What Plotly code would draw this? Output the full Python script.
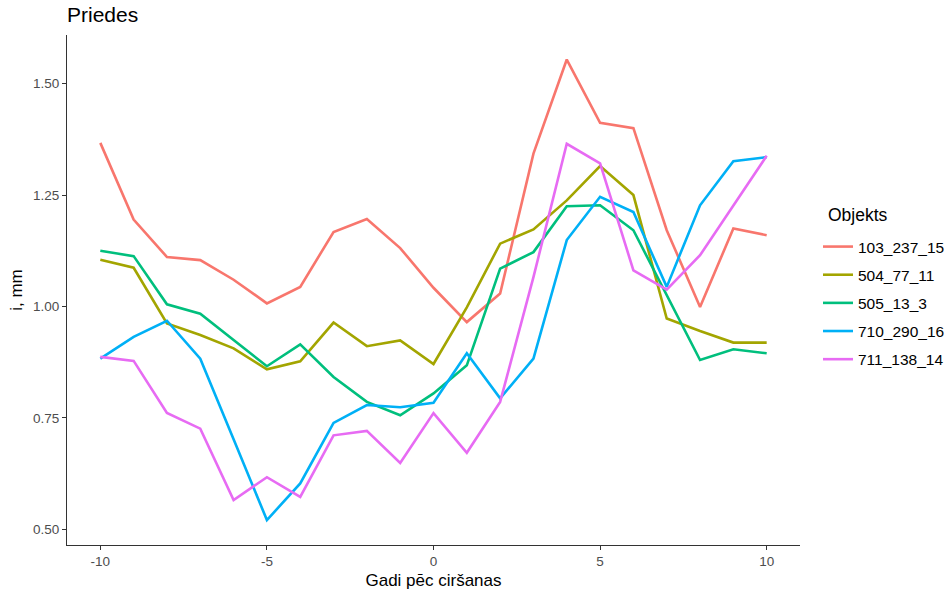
import plotly.graph_objects as go

# Years relative to cutting
years = list(range(-10, 11))

# Mean increment (mm) per object
obj_103_237_15 = [1.367, 1.195, 1.111, 1.104, 1.060, 1.007, 1.044, 1.167, 1.196, 1.131,
                  1.042, 0.965, 1.029, 1.343, 1.554, 1.412, 1.400, 1.171, 0.999, 1.175, 1.160]
obj_504_77_11 = [1.105, 1.087, 0.962, 0.936, 0.906, 0.859, 0.877, 0.964, 0.911, 0.924,
                 0.871, 0.998, 1.141, 1.173, 1.238, 1.315, 1.250, 0.973, 0.945, 0.919, 0.919]
obj_505_13_3 = [1.125, 1.113, 1.005, 0.984, 0.925, 0.866, 0.915, 0.842, 0.786, 0.756,
                0.805, 0.868, 1.085, 1.122, 1.225, 1.227, 1.171, 1.025, 0.880, 0.904, 0.895]
obj_710_290_16 = [0.883, 0.932, 0.968, 0.883, 0.702, 0.521, 0.603, 0.739, 0.779, 0.774,
                  0.784, 0.895, 0.794, 0.883, 1.149, 1.246, 1.212, 1.044, 1.227, 1.326, 1.335]
obj_711_138_14 = [0.887, 0.878, 0.761, 0.726, 0.566, 0.617, 0.573, 0.711, 0.721, 0.649,
                  0.761, 0.672, 0.786, 1.066, 1.365, 1.321, 1.081, 1.038, 1.115, 1.228, 1.338]

names = ["103_237_15", "504_77_11", "505_13_3", "710_290_16", "711_138_14"]
series = [obj_103_237_15, obj_504_77_11, obj_505_13_3, obj_710_290_16, obj_711_138_14]
colors = ["#F8766D", "#A3A500", "#00BF7D", "#00B0F6", "#E76BF3"]

x_ticks = [-10, -5, 0, 5, 10]
y_ticks = [0.50, 0.75, 1.00, 1.25, 1.50]

FONT = "Liberation Sans, Arial, sans-serif"
W, H = 949, 593
L, R, T, B = 67, 149, 35, 48
PW, PH = W - L - R, H - T - B

fig = go.Figure()
for name, vals, col in zip(names, series, colors):
    fig.add_trace(go.Scatter(
        x=years, y=vals, mode="lines", name=name,
        legendgroup=name,
        line=dict(color=col, width=2.6),
    ))

axis_common = dict(
    showgrid=False, zeroline=False, automargin=False,
    showline=True, linecolor="#333333", linewidth=1.1,
    ticks="outside", ticklen=4, tickcolor="#333333", tickwidth=1.1,
    tickfont=dict(family=FONT, size=13.5, color="#4D4D4D"),
)

fig.update_layout(
    width=W, height=H,
    paper_bgcolor="white", plot_bgcolor="white",
    margin=dict(l=L, r=R, t=T, b=B, autoexpand=False),
    font=dict(family=FONT),
    title=dict(text="Priedes", x=L / W, xanchor="left", y=1 - 15 / H, yanchor="middle",
               font=dict(family=FONT, size=21, color="black")),
    xaxis=dict(
        range=[-11, 11], tickvals=x_ticks, ticktext=[str(v) for v in x_ticks],
        title=dict(text="Gadi pēc ciršanas", font=dict(family=FONT, size=17, color="black"),
                   standoff=5),
        **axis_common,
    ),
    yaxis=dict(
        range=[0.465, 1.609], tickvals=y_ticks, ticktext=[f"{v:.2f}" for v in y_ticks],
        title=dict(text="i, mm", font=dict(family=FONT, size=17, color="black"),
                   standoff=6),
        **axis_common,
    ),
    legend=dict(
        x=(818 - L) / PW, xanchor="left", y=1 - (230 - T) / PH, yanchor="top",
        font=dict(family=FONT, size=15.5, color="black"),
        tracegroupgap=5,
        itemwidth=30,
        bgcolor="rgba(0,0,0,0)",
    ),
    annotations=[dict(
        text="Objekts", xref="paper", yref="paper",
        x=(826 - L) / PW, xanchor="left", y=1 - (215 - T) / PH, yanchor="middle",
        showarrow=False, font=dict(family=FONT, size=17.5, color="black"),
    )],
)

fig.write_html("out.html")
